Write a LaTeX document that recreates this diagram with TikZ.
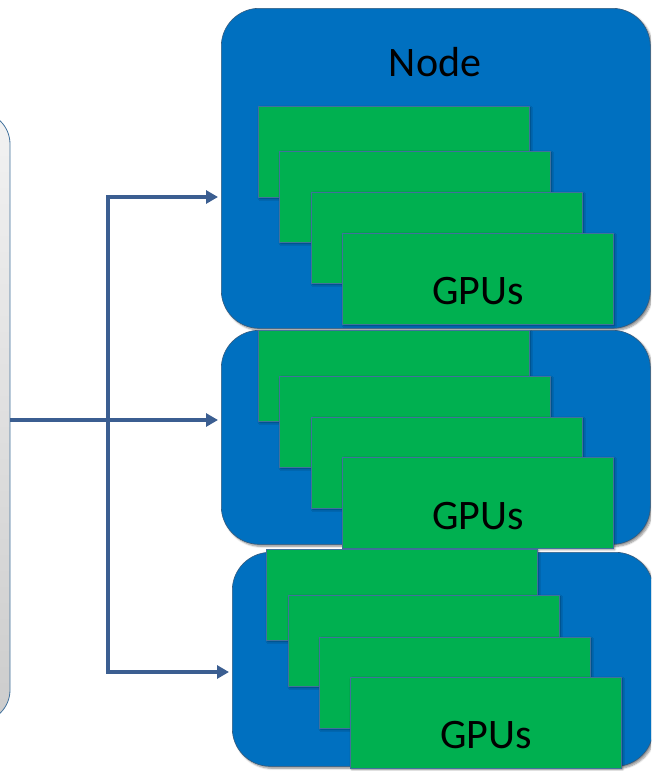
\documentclass[tikz,border=0pt]{standalone}
\usepackage{fontspec}
\setmainfont{Carlito}
\usetikzlibrary{arrows.meta,shadows.blur}

\definecolor{nodeblue}{RGB}{0,112,192}
\definecolor{gpugreen}{RGB}{0,176,80}
\definecolor{edgeblue}{RGB}{65,113,156}
\definecolor{linkblue}{RGB}{59,94,145}

\tikzset{
  host/.style={draw=edgeblue, line width=0.8pt, rounded corners=32pt,
    top color=white!95!black, bottom color=white!80!black,
    minimum width=70pt, minimum height=610pt, inner sep=0pt},
  nodebox/.style={draw=edgeblue!80!black, line width=0.6pt, fill=nodeblue,
    rounded corners=38pt, anchor=north west, inner sep=0pt,
    blur shadow={shadow xshift=2pt, shadow yshift=-2pt, shadow blur steps=6, shadow opacity=45}},
  gpubox/.style={draw=edgeblue, line width=0.6pt, fill=gpugreen,
    anchor=north west, minimum width=271pt, minimum height=91pt, inner sep=0pt,
    blur shadow={shadow xshift=1.5pt, shadow yshift=-1.5pt, shadow blur steps=4, shadow opacity=40}},
  bigtext/.style={font=\fontsize{42}{50}\selectfont, text=black, inner sep=0pt},
  link/.style={draw=linkblue, line width=4pt},
  linkarrow/.style={link, -{Triangle[length=12pt,width=13pt]}, shorten >=3pt},
}

\begin{document}
\begin{tikzpicture}[x=1pt, y=-1pt]
  \useasboundingbox (0,0) rectangle (651,771);
  \clip (0,0) rectangle (651,771);

  % host on the left, partly off the page
  \node[host] (host) at (-25,417) {};

  % first node with its GPUs
  \node[nodebox, minimum width=429pt, minimum height=320pt] (n1) at (221,8) {};
  \node[bigtext] (n1label) at (435,62) {Node};
  \node[gpubox] (g1a) at (258,106) {};
  \node[gpubox] (g1b) at (279,151) {};
  \node[gpubox] (g1c) at (311,192) {};
  \node[gpubox] (g1d) at (342,233) {};
  \node[bigtext] (g1t) at (478,291) {GPUs};

  % second node
  \node[nodebox, minimum width=429pt, minimum height=214pt] (n2) at (221,330) {};
  \node[gpubox] (g2a) at (258,330) {};
  \node[gpubox] (g2b) at (279,376) {};
  \node[gpubox] (g2c) at (311,417) {};
  \node[gpubox] (g2d) at (342,457) {};
  \node[bigtext] (g2t) at (478,516) {GPUs};

  % third node
  \node[nodebox, minimum width=421pt, minimum height=214pt] (n3) at (232,552) {};
  \node[gpubox] (g3a) at (266,549) {};
  \node[gpubox] (g3b) at (288,595) {};
  \node[gpubox] (g3c) at (319,637) {};
  \node[gpubox] (g3d) at (350,677) {};
  \node[bigtext] (g3t) at (486,735) {GPUs};

  % fan-out from the host to the three nodes
  \coordinate (sp) at (108,420);
  \coordinate (y1) at (0,197);
  \coordinate (y3) at (0,672);
  \draw[link] (host.east |- sp) -- (sp);
  \draw[linkarrow] (sp) |- (n1.west |- y1);
  \draw[linkarrow] (sp) -- (n2.west |- sp);
  \draw[linkarrow] (sp) |- (n3.west |- y3);
\end{tikzpicture}
\end{document}
